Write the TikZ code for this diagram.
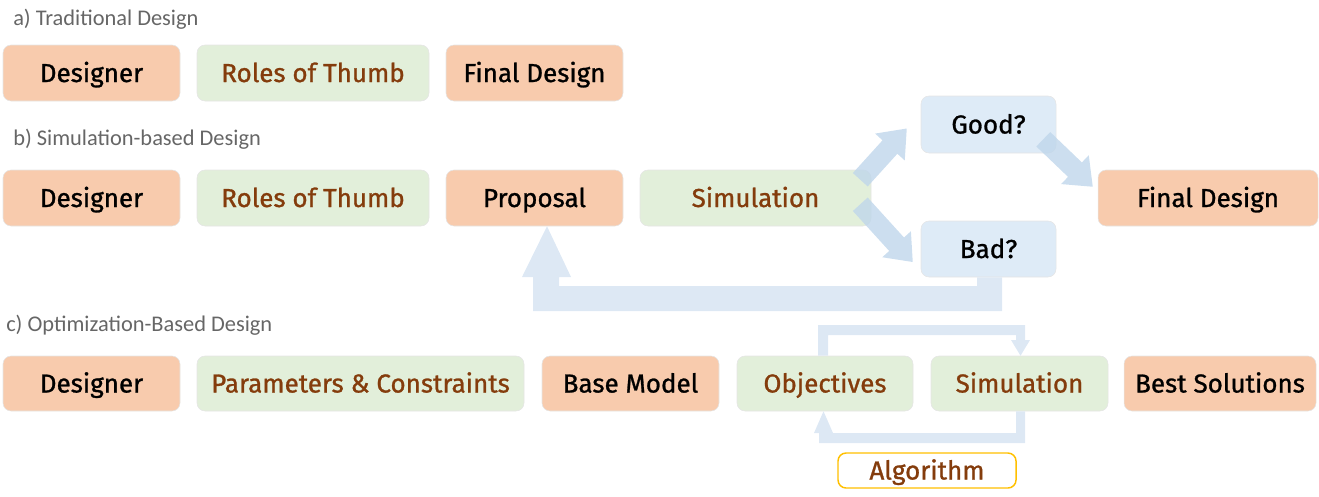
\documentclass[tikz,border=0pt]{standalone}
\usepackage{fontspec}
\usetikzlibrary{calc}
\setmainfont{Fira Sans}
\newfontfamily\labelfont{Carlito}
\newfontfamily\boxfont{Fira Sans}[FakeBold=1]

\definecolor{boxorange}{HTML}{F8CBAD}
\definecolor{boxgreen}{HTML}{E2EFDA}
\definecolor{boxblue}{HTML}{DEEBF7}
\definecolor{txtbrown}{HTML}{843C0C}
\definecolor{lblgray}{HTML}{666666}
\definecolor{flowblue}{HTML}{BFD6EB}
\definecolor{loopblue}{HTML}{DDE8F4}
\definecolor{algoedge}{HTML}{FFC000}

% box from corner (x1,y1) to (x2,y2), in pixel units
\newcommand\pbox[7]{%
  \node[#6, minimum width={(#4-#2)*0.75pt}, minimum height={(#5-#3)*0.75pt}]
    (#1) at ({(#2+#4)/2},{(#3+#5)/2}) {#7};}

% wide block arrow: tail, tip, shaft half width, head half width, head length
\newcommand\blockarrow[5]{%
  \coordinate (ba-c) at ($(#2)!#5!(#1)$);
  \fill[flowarrow] ($(#1)!#3!90:(#2)$) -- ($(ba-c)!#3!90:(#2)$)
    -- ($(ba-c)!#4!90:(#2)$) -- (#2) -- ($(ba-c)!#4!-90:(#2)$)
    -- ($(ba-c)!#3!-90:(#2)$) -- ($(#1)!#3!-90:(#2)$) -- cycle;}

\tikzset{
  box/.style={rounded corners=6pt, inner sep=0pt, draw=black!10, line width=0.4pt,
    text height=13.5pt, text depth=0pt,
    font=\boxfont\fontsize{19.5}{22}\selectfont},
  orangebox/.style={box, fill=boxorange, text=black},
  greenbox/.style={box, fill=boxgreen, text=txtbrown},
  bluebox/.style={box, fill=boxblue, text=black},
  algobox/.style={box, fill=white, draw=algoedge, line width=1.1pt, text=txtbrown},
  rowlabel/.style={anchor=base west, inner sep=0pt, text=lblgray,
    font=\labelfont\fontsize{16.8}{20}\selectfont},
  flowarrow/.style={fill=flowblue, fill opacity=0.8},
  loopband/.style={fill=loopblue},
}

\begin{document}
\begin{tikzpicture}[x=0.75pt, y=-0.75pt]
\useasboundingbox (0,0) rectangle (1319,496);

% row labels
\node[rowlabel] (la) at (13,25) {a) Traditional Design};
\node[rowlabel] (lb) at (13,145) {b) Simulation-based Design};
\node[rowlabel] (lc) at (6,331) {c) Optimization-Based Design};

% a) traditional design
\pbox{a1}{3}{45}{180}{101}{orangebox}{Designer}
\pbox{a2}{197}{45}{429}{101}{greenbox}{Roles of Thumb}
\pbox{a3}{446}{45}{623}{101}{orangebox}{Final Design}

% b) simulation-based design
\pbox{b1}{3}{170}{180}{226}{orangebox}{Designer}
\pbox{b2}{197}{170}{429}{226}{greenbox}{Roles of Thumb}
\pbox{b3}{446}{170}{623}{226}{orangebox}{Proposal}
\pbox{b4}{640}{170}{871}{226}{greenbox}{Simulation}
\pbox{good}{921}{96}{1056}{153}{bluebox}{Good?}
\pbox{bad}{921}{221}{1056}{277}{bluebox}{Bad?}
\pbox{b5}{1098}{170}{1318}{226}{orangebox}{Final Design}

% feedback from Bad? back to Proposal
\fill[loopband] (bad.south -| 977,0) -- (977,286) -- (559,286) -- (559,277)
  -- (571,277) -- (b3.south -| 547,0) -- (522,277) -- (533,277) -- (533,311)
  -- (1002,311) -- (bad.south -| 1002,0) -- cycle;

% branches out of the simulation
\coordinate (sg-t) at ($(b4.north east)+(-11,10)$);
\coordinate (sg-h) at ($(good.west)+(-14,4)$);
\coordinate (sb-t) at ($(b4.south east)+(-11,-22)$);
\coordinate (sb-h) at ($(bad.west)+(-8,13)$);
\coordinate (gf-t) at ($(good.south east)+(-13,-14)$);
\coordinate (gf-h) at ($(b5.north west)+(-5,17)$);
\blockarrow{sg-t}{sg-h}{7.5pt}{15pt}{18.75pt}
\blockarrow{sb-t}{sb-h}{7.5pt}{14.5pt}{18pt}
\blockarrow{gf-t}{gf-h}{7.5pt}{15pt}{18.5pt}

% c) optimization-based design
\pbox{c1}{3}{356}{180}{411}{orangebox}{Designer}
\pbox{c2}{197}{356}{524}{411}{greenbox}{Parameters \& Constraints}
\pbox{c3}{542}{356}{719}{411}{orangebox}{Base Model}
\pbox{obj}{737}{356}{913}{411}{greenbox}{Objectives}
\pbox{csim}{931}{356}{1108}{411}{greenbox}{Simulation}
\pbox{c6}{1124}{356}{1316}{411}{orangebox}{Best Solutions}
\pbox{algo}{838}{453}{1016}{488}{algobox}{Algorithm}

% optimisation loop: objectives -> simulation -> objectives
\fill[loopband] (obj.north -| 818,0) -- (818,325) -- (1025,325) -- (1025,340)
  -- (1030,340) -- (csim.north -| 1020.5,0) -- (1011,340) -- (1016,340)
  -- (1016,335) -- (828,335) -- (obj.north -| 828,0) -- cycle;
\fill[loopband] (csim.south -| 1016,0) -- (1016,433) -- (833,433)
  -- (obj.south -| 823.5,0) -- (814,433) -- (819,433) -- (819,443)
  -- (1025,443) -- (csim.south -| 1025,0) -- cycle;
\end{tikzpicture}
\end{document}
